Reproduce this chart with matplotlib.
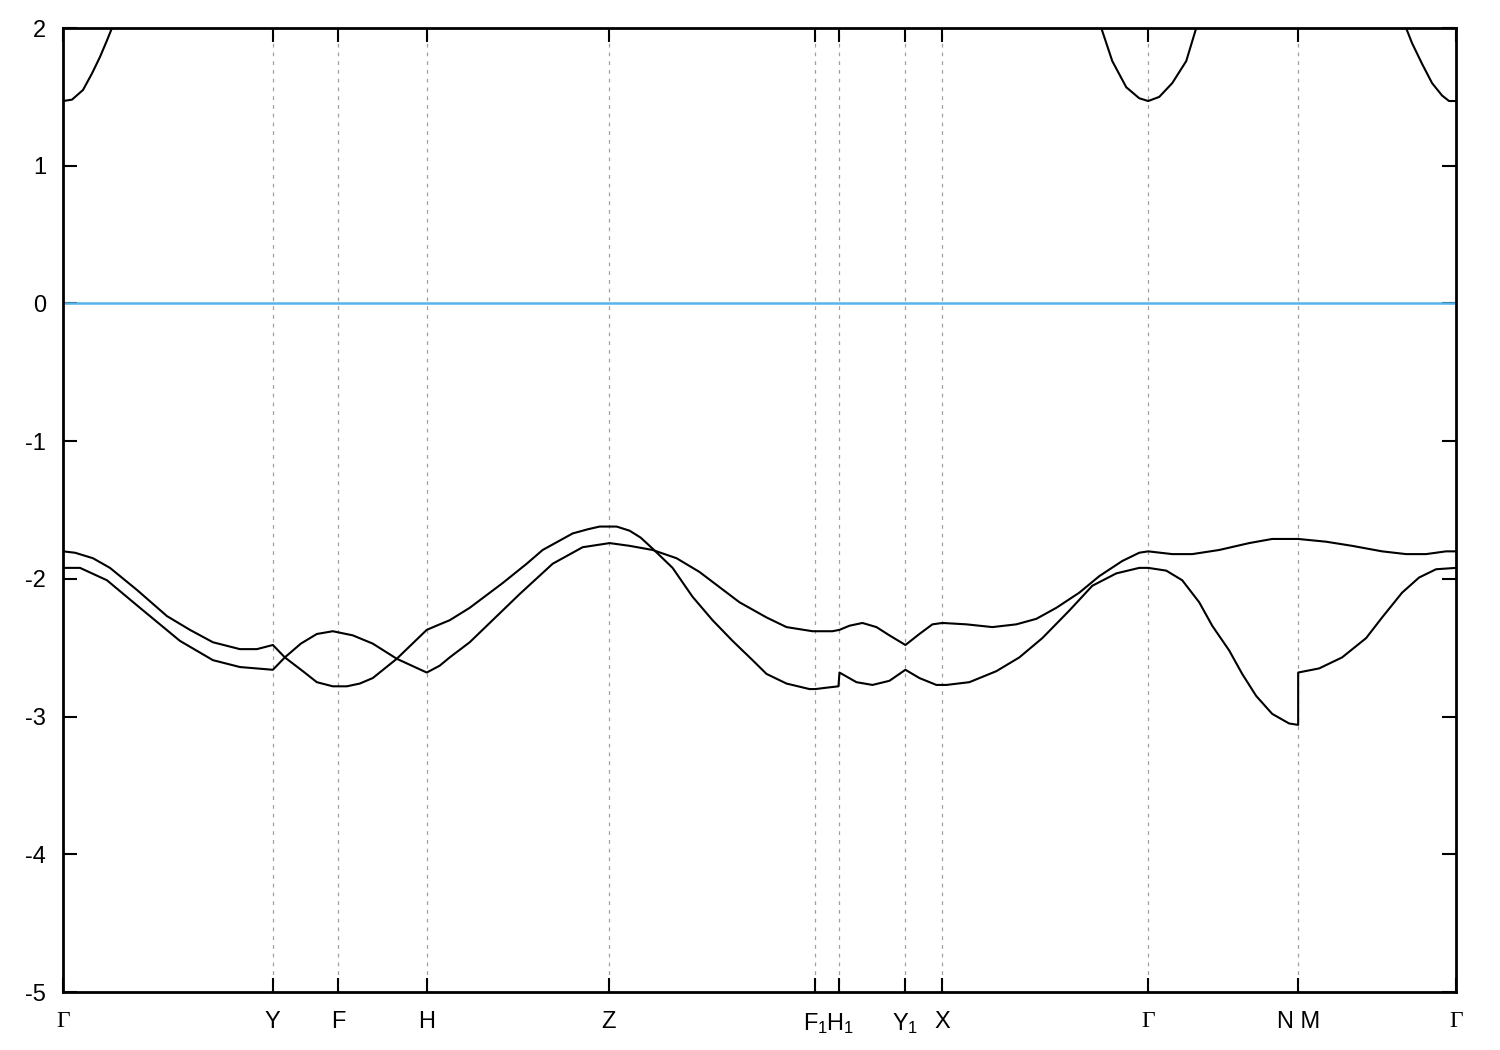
import numpy as np
import matplotlib
matplotlib.use('Agg')
import matplotlib.pyplot as plt

plt.rcParams['font.family'] = ['Liberation Sans', 'DejaVu Sans']
plt.rcParams['mathtext.fontset'] = 'custom'
plt.rcParams['mathtext.rm'] = 'Liberation Sans'
plt.rcParams['mathtext.it'] = 'Liberation Sans'

# high-symmetry points along the k-path
kpt_pos = [0.000, 0.210, 0.275, 0.364, 0.546, 0.753, 0.777, 0.843, 0.880, 1.086, 1.236, 1.394]
kpt_lab = ['Γ', 'Y', 'F', 'H', 'Z', r'F$_1$', r'H$_1$', r'Y$_1$', 'X', 'Γ', 'N M', 'Γ']

# valence band 1
k1 = [0.000, 0.012, 0.030, 0.047, 0.074, 0.104, 0.127, 0.150, 0.177, 0.194, 0.210,
      0.222, 0.240, 0.254, 0.270, 0.275, 0.284, 0.297, 0.310, 0.334, 0.364,
      0.377, 0.387, 0.407, 0.440, 0.464, 0.480, 0.495, 0.510, 0.525, 0.537, 0.554, 0.567,
      0.578, 0.590, 0.610, 0.630, 0.650, 0.670, 0.690, 0.704, 0.724, 0.747, 0.753,
      0.764, 0.776, 0.777, 0.794, 0.810, 0.827, 0.843, 0.857, 0.874, 0.884,
      0.907, 0.934, 0.957, 0.980, 1.007, 1.030, 1.054, 1.077, 1.086, 1.104,
      1.120, 1.137, 1.150, 1.167, 1.180, 1.194, 1.210, 1.227, 1.236, 1.236,
      1.257, 1.280, 1.304, 1.320, 1.340, 1.357, 1.374, 1.394]
e1 = [-1.80, -1.81, -1.85, -1.92, -2.08, -2.27, -2.37, -2.46, -2.51, -2.51, -2.48,
      -2.57, -2.67, -2.75, -2.78, -2.78, -2.78, -2.76, -2.72, -2.58, -2.37,
      -2.33, -2.30, -2.21, -2.03, -1.89, -1.79, -1.73, -1.67, -1.64, -1.62, -1.62, -1.65,
      -1.70, -1.78, -1.92, -2.13, -2.30, -2.45, -2.59, -2.69, -2.76, -2.80, -2.80,
      -2.79, -2.78, -2.68, -2.75, -2.77, -2.74, -2.66, -2.72, -2.77, -2.77,
      -2.75, -2.67, -2.57, -2.43, -2.23, -2.05, -1.96, -1.92, -1.92, -1.94,
      -2.01, -2.17, -2.34, -2.52, -2.69, -2.85, -2.98, -3.05, -3.06, -2.68,
      -2.65, -2.57, -2.43, -2.28, -2.10, -1.99, -1.93, -1.92]

# valence band 2
k2 = [0.000, 0.017, 0.044, 0.077, 0.117, 0.150, 0.177, 0.210,
      0.222, 0.238, 0.254, 0.270, 0.290, 0.310, 0.334, 0.364,
      0.377, 0.387, 0.407, 0.437, 0.457, 0.490, 0.520, 0.547, 0.567, 0.590,
      0.614, 0.637, 0.657, 0.677, 0.704, 0.724, 0.750, 0.770, 0.777,
      0.787, 0.800, 0.814, 0.827, 0.843, 0.857, 0.870, 0.880, 0.904, 0.930,
      0.954, 0.974, 0.994, 1.017, 1.037, 1.060, 1.077, 1.086, 1.110, 1.130,
      1.157, 1.187, 1.210, 1.230, 1.236, 1.264, 1.290, 1.320, 1.344, 1.364,
      1.384, 1.394]
e2 = [-1.92, -1.92, -2.01, -2.21, -2.45, -2.59, -2.64, -2.66,
      -2.57, -2.47, -2.40, -2.38, -2.41, -2.47, -2.58, -2.68,
      -2.63, -2.57, -2.46, -2.25, -2.11, -1.89, -1.77, -1.74, -1.76, -1.79,
      -1.85, -1.95, -2.06, -2.17, -2.28, -2.35, -2.38, -2.38, -2.37,
      -2.34, -2.32, -2.35, -2.41, -2.48, -2.40, -2.33, -2.32, -2.33, -2.35,
      -2.33, -2.29, -2.21, -2.10, -1.98, -1.87, -1.81, -1.80, -1.82, -1.82,
      -1.79, -1.74, -1.71, -1.71, -1.71, -1.73, -1.76, -1.80, -1.82, -1.82,
      -1.80, -1.80]

# conduction band pieces (clipped at the top of the frame)
kc1 = [0.000, 0.009, 0.020, 0.029, 0.037, 0.044, 0.049, 0.054]
ec1 = [1.47, 1.48, 1.55, 1.67, 1.79, 1.91, 2.00, 2.15]
kc2 = [1.032, 1.039, 1.050, 1.064, 1.077, 1.086, 1.097, 1.110, 1.124, 1.134, 1.140]
ec2 = [2.15, 2.00, 1.76, 1.57, 1.49, 1.47, 1.50, 1.60, 1.76, 2.00, 2.15]
kc3 = [1.338, 1.344, 1.350, 1.360, 1.370, 1.380, 1.387, 1.394]
ec3 = [2.15, 2.00, 1.89, 1.74, 1.60, 1.51, 1.47, 1.47]

fig = plt.figure(figsize=(15, 10.5), dpi=100)
ax = fig.add_axes([0.042, 0.0552, 0.9287, 0.9181])

for p in kpt_pos[1:-1]:
    ax.axvline(p, color='#a0a0a0', lw=0.9, ls=(0, (3, 4)), zorder=1)
ax.axhline(0, color='#56b4e9', lw=1.8, zorder=2)

for kk, ee in [(k1, e1), (k2, e2), (kc1, ec1), (kc2, ec2), (kc3, ec3)]:
    ax.plot(kk, ee, color='black', lw=1.5, zorder=3)

ax.set_xlim(kpt_pos[0], kpt_pos[-1])
ax.set_ylim(-5, 2)
ax.set_yticks(np.arange(-5, 3, 1))
ax.set_yticklabels([str(v) for v in range(-5, 3)])
ax.set_xticks(kpt_pos)
ax.set_xticklabels(kpt_lab)
for lab in ax.get_xticklabels():
    if lab.get_text() == 'Γ':
        lab.set_fontfamily(['Liberation Serif', 'DejaVu Serif'])

ax.tick_params(direction='in', length=10, width=1.5, top=True, right=True,
               labelsize=17)
ax.tick_params(axis='y', pad=12)
ax.tick_params(axis='x', pad=14)
for s in ax.spines.values():
    s.set_linewidth(2)

fig.savefig('out.png', dpi=100)
